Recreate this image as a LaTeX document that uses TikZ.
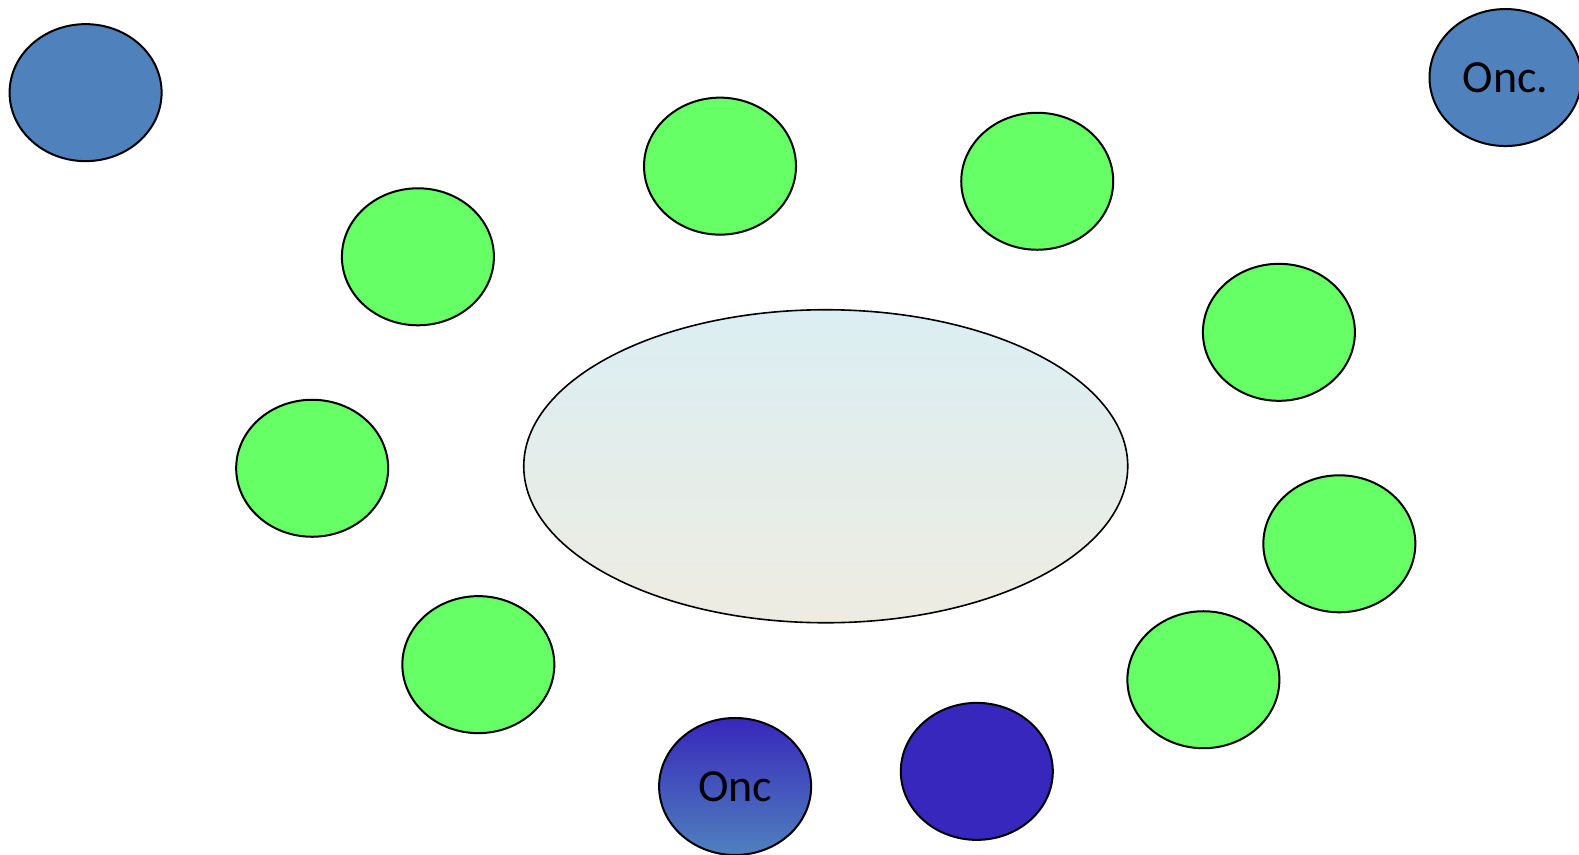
\documentclass[tikz,border=0pt]{standalone}
\usepackage{fontspec}
\setmainfont{Carlito}
\usetikzlibrary{shapes.geometric}
\definecolor{cellgreen}{HTML}{66FF66}
\definecolor{cellblue}{HTML}{4F81BD}
\definecolor{celldark}{HTML}{3827BC}
\definecolor{coretop}{HTML}{DBEEF3}
\definecolor{corebot}{HTML}{EEECE1}
\tikzset{
  cell/.style={ellipse, draw=black, line width=2pt, minimum width=152pt,
    minimum height=137pt, inner sep=0pt, font=\fontsize{46}{54}\selectfont},
  green cell/.style={cell, fill=cellgreen},
  blue cell/.style={cell, fill=cellblue},
}
\begin{document}
\begin{tikzpicture}[x=1.007pt,y=-1.007pt]
        \useasboundingbox (0,0) rectangle (1568,849);
        % Central body
        \node[ellipse, draw=black, line width=1.6pt, minimum width=604pt,
          minimum height=313pt, top color=coretop, bottom color=corebot]
          (core) at (820, 463) {};
        % Ring of cells
        \node[green cell] (g1) at (415, 255) {};
        \node[green cell] (g2) at (715, 165) {};
        \node[green cell] (g3) at (1030, 180) {};
        \node[green cell] (g4) at (1270, 330) {};
        \node[green cell] (g5) at (310, 465) {};
        \node[green cell] (g6) at (1330, 540) {};
        \node[green cell] (g7) at (475, 660) {};
        \node[green cell] (g8) at (1195, 675) {};
        % Other cells
        \node[cell, top color=celldark, bottom color=cellblue] (onc) at (730, 781) {Onc};
        \node[cell, fill=celldark] (dark) at (970, 766) {};
        % Corner cells
        \node[blue cell] (corner) at (85, 92) {};
        \node[blue cell] (oncdot) at (1495, 77) {Onc.};
\end{tikzpicture}
\end{document}
